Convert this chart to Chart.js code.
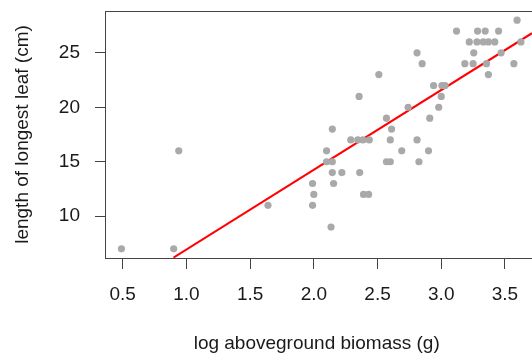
<!DOCTYPE html>
<html><head><meta charset="utf-8">
<script src="https://cdn.jsdelivr.net/npm/chart.js@4.4.1/dist/chart.umd.min.js"></script>
<style>html,body{margin:0;padding:0;background:#fff;overflow:hidden}</style>
</head><body>
<div style="width:532px;height:355px"><canvas id="c" width="532" height="355"></canvas></div>
<script>
const biomassLog = [0.49, 0.90, 0.94, 1.64, 1.99, 2.00, 1.99, 2.135, 2.10, 2.10, 2.145, 2.145, 2.145, 2.155, 2.22,
  2.29, 2.345, 2.385, 2.435, 2.355, 2.36, 2.39, 2.43, 2.51, 2.57, 2.61, 2.60, 2.57, 2.60, 2.69,
  2.74, 2.81, 2.85, 2.81, 2.825, 2.90, 2.91, 2.94, 2.98, 3.00, 3.005, 3.03, 3.12, 3.185, 3.22,
  3.255, 3.25, 3.285, 3.345, 3.28, 3.33, 3.37, 3.42, 3.355, 3.37, 3.45, 3.47, 3.57, 3.595, 3.625];
const leafLength = [7, 7, 16, 11, 13, 12, 11, 9, 16, 15, 15, 18, 14, 13, 14,
  17, 17, 17, 17, 21, 14, 12, 12, 23, 19, 18, 17, 15, 15, 16,
  20, 25, 24, 17, 15, 16, 19, 22, 20, 21, 22, 22, 27, 24, 26,
  25, 24, 27, 27, 26, 26, 26, 26, 24, 23, 27, 25, 24, 28, 26];
const fitX = [0.899, 3.712];
const fitY = [6.2, 26.8];
const xTicks = [0.5, 1.0, 1.5, 2.0, 2.5, 3.0, 3.5];
const xTickLabels = ['0.5', '1.0', '1.5', '2.0', '2.5', '3.0', '3.5'];
const yTicks = [10, 15, 20, 25];
const yTickLabels = ['10', '15', '20', '25'];
const xLabel = 'log aboveground biomass (g)';
const yLabel = 'length of longest leaf (cm)';

Chart.defaults.font.family = "'Liberation Sans', Arial, sans-serif";
Chart.defaults.font.size = 19;
Chart.defaults.color = '#1a1a1a';

const boxPlugin = {
  id: 'box',
  afterDraw(chart) {
    const {ctx, chartArea: a} = chart;
    ctx.save();
    ctx.strokeStyle = '#444';
    ctx.lineWidth = 1;
    ctx.beginPath();
    ctx.moveTo(a.left, a.top + 0.5);
    ctx.lineTo(chart.width, a.top + 0.5);
    ctx.moveTo(a.right, a.bottom + 0.5);
    ctx.lineTo(chart.width, a.bottom + 0.5);
    ctx.stroke();
    ctx.restore();
  }
};

new Chart(document.getElementById('c'), {
  type: 'scatter',
  data: {
    datasets: [
      {
        label: 'observed',
        data: biomassLog.map((x, i) => ({x, y: leafLength[i]})),
        backgroundColor: '#a9a9a9',
        borderWidth: 0,
        pointRadius: 3.6,
        pointHoverRadius: 3.6
      },
      {
        label: 'fit',
        type: 'line',
        data: fitX.map((x, i) => ({x, y: fitY[i]})),
        borderColor: '#ff0000',
        borderWidth: 2,
        pointRadius: 0,
        fill: false,
        tension: 0,
        clip: {left: 0, top: 0, right: 8, bottom: 0}
      }
    ]
  },
  options: {
    responsive: false,
    animation: false,
    devicePixelRatio: 1,
    layout: {padding: {top: 11, right: 0, bottom: 0, left: 0}},
    plugins: {legend: {display: false}, tooltip: {enabled: false}},
    scales: {
      x: {
        type: 'linear',
        min: 0.361, max: 3.684,
        afterBuildTicks: s => { s.ticks = xTicks.map(v => ({value: v})); },
        afterFit: s => { s.height = 97; s.paddingLeft = 0; s.paddingRight = 0; },
        grid: {display: true, drawOnChartArea: false, drawTicks: true, tickLength: 11, color: '#444', tickColor: '#444'},
        border: {display: true, color: '#444', width: 1},
        ticks: {padding: 14, maxRotation: 0, autoSkip: false, color: '#1a1a1a',
          callback: (v, i) => xTickLabels[i]},
        title: {display: true, text: xLabel, color: '#1a1a1a', padding: {top: 0, bottom: 0}}
      },
      y: {
        type: 'linear',
        min: 6.16, max: 28.84,
        afterBuildTicks: s => { s.ticks = yTicks.map(v => ({value: v})); },
        afterFit: s => { s.width = 105; s.paddingTop = 0; s.paddingBottom = 0; },
        grid: {display: true, drawOnChartArea: false, drawTicks: true, tickLength: 10, color: '#444', tickColor: '#444'},
        border: {display: true, color: '#444', width: 1},
        ticks: {padding: 15, color: '#1a1a1a', callback: (v, i) => yTickLabels[i]},
        title: {display: true, text: yLabel, color: '#1a1a1a', padding: {top: 11, bottom: 0}}
      }
    }
  },
  plugins: [boxPlugin]
});
</script>
</body></html>
